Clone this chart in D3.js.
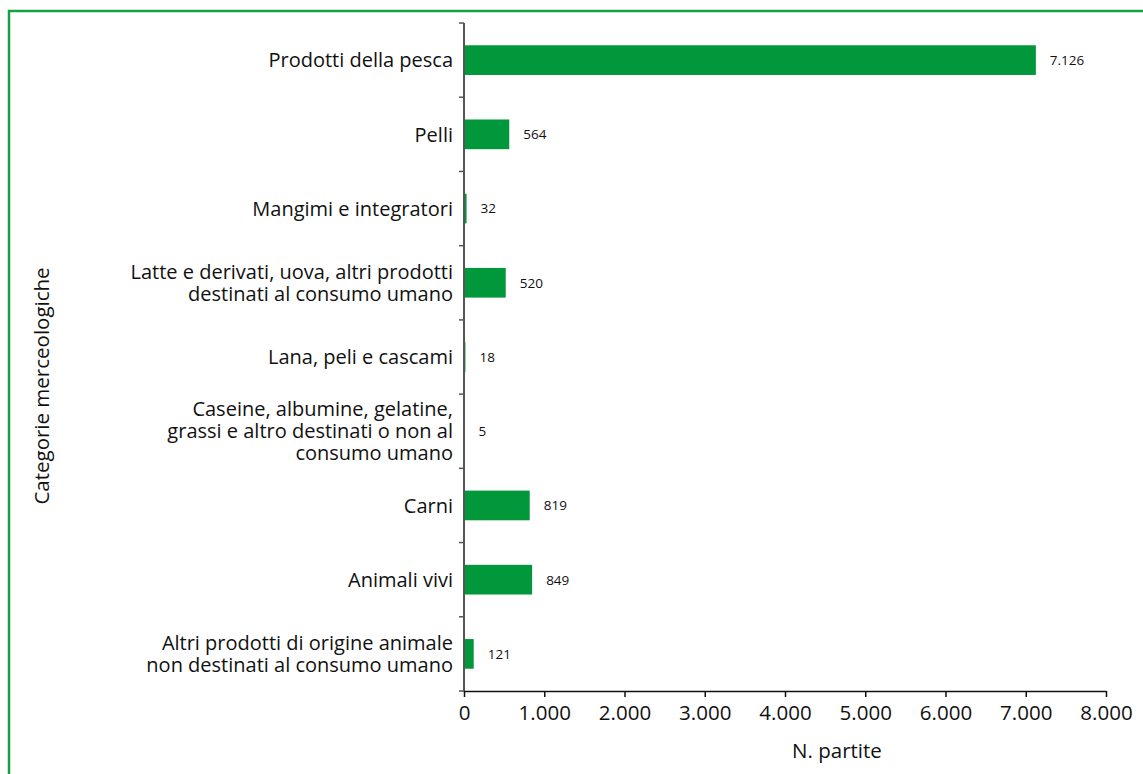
<!DOCTYPE html>
<html><head><meta charset="utf-8">
<script src="https://cdn.jsdelivr.net/npm/d3@7"></script>
<style>body{margin:0;background:#fff}svg{display:block}text{font-family:"Open Sans","Noto Sans",sans-serif}</style>
</head><body>
<svg id="c" width="1143" height="774"></svg>
<script>
const categories = [
  ["Prodotti della pesca"],
  ["Pelli"],
  ["Mangimi e integratori"],
  ["Latte e derivati, uova, altri prodotti","destinati al consumo umano"],
  ["Lana, peli e cascami"],
  ["Caseine, albumine, gelatine,","grassi e altro destinati o non al","consumo umano"],
  ["Carni"],
  ["Animali vivi"],
  ["Altri prodotti di origine animale","non destinati al consumo umano"]
];
const values = [7126, 564, 32, 520, 18, 5, 819, 849, 121];
const xTicks = [0,1000,2000,3000,4000,5000,6000,7000,8000];
const xTitle = "N. partite";
const yTitle = "Categorie merceologiche";

const svg = d3.select("#c");
const green = "#00983a";
const itFmt = d3.formatLocale({decimal:",", thousands:".", grouping:[3], currency:["","€"]}).format(",");

svg.append("path").attr("d","M9,774V11H1143").attr("fill","none").attr("stroke","#16a043").attr("stroke-width",2.5);

const x = d3.scaleLinear().domain([0,8000]).range([464,1106]);
const y = d3.scaleBand().domain(d3.range(categories.length)).range([23,691]).paddingInner(0.6).paddingOuter(0.3);

// bars
svg.selectAll("rect.bar").data(values).join("rect")
  .attr("x", x(0)).attr("y",(d,i)=>y(i)).attr("width",d=>x(d)-x(0)).attr("height",y.bandwidth()).attr("fill",green);

svg.selectAll("text.val").data(values).join("text")
  .attr("x",d=>x(d)+14).attr("y",(d,i)=>y(i)+y.bandwidth()/2).attr("dy","0.36em")
  .attr("font-size",13.5).attr("fill","#111").text(d=>itFmt(d));

// y axis
const step = y.step();
const yBounds = d3.range(categories.length+1).map(i=>23+i*step);
svg.append("line").attr("x1",464).attr("x2",464).attr("y1",23).attr("y2",691).attr("stroke","#555").attr("stroke-width",2);
svg.selectAll("line.yt").data(yBounds).join("line").attr("x1",459).attr("x2",464).attr("y1",d=>d).attr("y2",d=>d).attr("stroke","#555").attr("stroke-width",1.5);

categories.forEach((lines,i)=>{
  const cy = y(i)+y.bandwidth()/2;
  const lh = 22;
  const t = svg.append("text").attr("text-anchor","end").attr("font-size",20).attr("fill","#111");
  lines.forEach((l,j)=>{
    t.append("tspan").attr("x",453).attr("y",cy + (j-(lines.length-1)/2)*lh).attr("dy","0.36em").text(l);
  });
});

// x axis
const xa = svg.append("g").attr("transform","translate(0,691)")
  .call(d3.axisBottom(x).tickValues(xTicks).tickSize(6).tickSizeOuter(0).tickFormat(d=>itFmt(d)));
xa.select(".domain").attr("stroke","#111").attr("stroke-width",1.5);
xa.selectAll(".tick line").attr("stroke","#111").attr("stroke-width",1.5);
xa.selectAll(".tick text").attr("font-size",20.5).attr("fill","#111").attr("dy","0.96em").attr("font-family","\"Open Sans\",sans-serif");

svg.append("text").attr("x",837).attr("y",758).attr("text-anchor","middle").attr("font-size",20.5).attr("fill","#111").text(xTitle);
svg.append("text").attr("transform","translate(49,386) rotate(-90)").attr("text-anchor","middle").attr("font-size",20.5).attr("fill","#111").text(yTitle);
</script>
</body></html>
